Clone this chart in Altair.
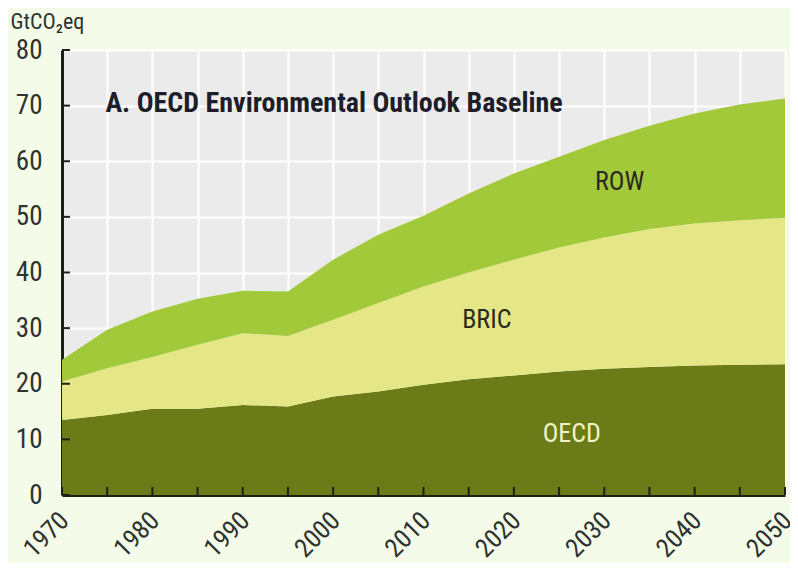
import altair as alt
import pandas as pd

years = [1970, 1975, 1980, 1985, 1990, 1995, 2000, 2005, 2010, 2015, 2020,
         2025, 2030, 2035, 2040, 2045, 2050]
oecd = [13.5, 14.4, 15.5, 15.5, 16.2, 15.9, 17.7, 18.6, 19.8, 20.8, 21.5,
        22.2, 22.7, 23.0, 23.3, 23.4, 23.5]
bric = [6.9, 8.4, 9.3, 11.5, 12.9, 12.7, 13.8, 15.9, 17.7, 19.2, 20.8,
        22.3, 23.6, 24.8, 25.5, 26.0, 26.3]
row = [3.9, 6.9, 8.2, 8.3, 7.6, 8.0, 10.8, 12.3, 12.7, 14.2, 15.5,
       16.3, 17.5, 18.6, 19.8, 20.8, 21.5]
series = ["OECD", "BRIC", "ROW"]
colors = ["#6b7b17", "#e5e786", "#a2c93a"]
y_ticks = [0, 10, 20, 30, 40, 50, 60, 70, 80]
x_ticks = list(range(1970, 2051, 5))

labels = ["ROW", "BRIC", "OECD"]
label_x = [2031.7, 2017.0, 2026.4]
label_y = [56.3, 31.5, 11.0]
label_color = ["#2a2a22", "#2a2a22", "#f2f2c8"]

title_text = "A.  OECD Environmental Outlook Baseline"

FONT = "Liberation Sans Narrow, Roboto Condensed, Arial Narrow, Roboto, sans-serif"

rows = []
for s, vals in zip(series, [oecd, bric, row]):
    for yr, v in zip(years, vals):
        rows.append({"year": yr, "value": v, "series": s, "order": series.index(s)})
df = pd.DataFrame(rows)

W, H = 723, 445
xs = alt.Scale(domain=[1970, 2050], nice=False, zero=False)
ys = alt.Scale(domain=[0, 80], nice=False)

area = alt.Chart(df).mark_area().encode(
    x=alt.X("year:Q", scale=xs,
            axis=alt.Axis(values=x_ticks, title=None, format="d",
                          labelExpr="datum.value % 10 == 0 ? datum.label : ''",
                          labelAngle=-45, labelAlign="right", labelBaseline="top",
                          labelPadding=12, labelOffset=-7, ticks=False, grid=True,
                          gridColor="white", gridWidth=2, domainColor="#1f1f1a",
                          domainWidth=3, labelFontSize=26, labelColor="#2e3330",
                          labelFont=FONT, labelOverlap=False, labelBound=False)),
    y=alt.Y("value:Q", stack="zero", scale=ys,
            axis=alt.Axis(values=y_ticks, title="GtCO₂eq", titleAngle=0,
                          titleAlign="left", titleBaseline="alphabetic",
                          titleX=-52, titleY=-22,
                          titleFontSize=22, titleFontWeight="normal", titleFont=FONT,
                          titleColor="#2e3330",
                          ticks=False, grid=True, gridColor="white", gridWidth=2,
                          domainColor="#1f1f1a", domainWidth=3, labelPadding=20,
                          labelFontSize=27, labelColor="#2e3330", labelFont=FONT)),
    color=alt.Color("series:N", scale=alt.Scale(domain=series, range=colors), legend=None),
    order=alt.Order("order:Q"),
)

ytick_df = pd.DataFrame({"v": y_ticks})
yt = alt.Chart(ytick_df).mark_rule(color="#1f1f1a", strokeWidth=2).encode(
    y=alt.Y("v:Q", scale=ys), x=alt.value(0), x2=alt.value(8))
xtick_df = pd.DataFrame({"yr": x_ticks})
xt = alt.Chart(xtick_df).mark_rule(color="#1f1f1a", strokeWidth=2).encode(
    x=alt.X("yr:Q", scale=xs), y=alt.value(H), y2=alt.value(H - 8))

lab_df = pd.DataFrame({"t": labels, "x": label_x, "y": label_y, "c": label_color})
lab = alt.Chart(lab_df).mark_text(fontSize=26, font=FONT, fontWeight="normal").encode(
    x=alt.X("x:Q", scale=xs), y=alt.Y("y:Q", scale=ys), text="t:N",
    color=alt.Color("c:N", scale=None))

ttl_df = pd.DataFrame({"t": [title_text], "x": [1974.8], "y": [70.3]})
ttl = alt.Chart(ttl_df).mark_text(fontSize=28, font=FONT, fontWeight="bold",
                                   align="left", color="#1e1e2a").encode(
    x=alt.X("x:Q", scale=xs), y=alt.Y("y:Q", scale=ys), text="t:N")

chart = alt.layer(area, yt, xt, lab, ttl).properties(
    width=W, height=H,
    autosize=alt.AutoSizeParams(type="none"),
    padding={"left": 54, "top": 42, "right": 5, "bottom": 68},
    background="#f4fbe9",
).configure_view(fill="#ebebeb", stroke=None)

chart.save("out.html", embed_options={"renderer": "svg", "actions": False})
